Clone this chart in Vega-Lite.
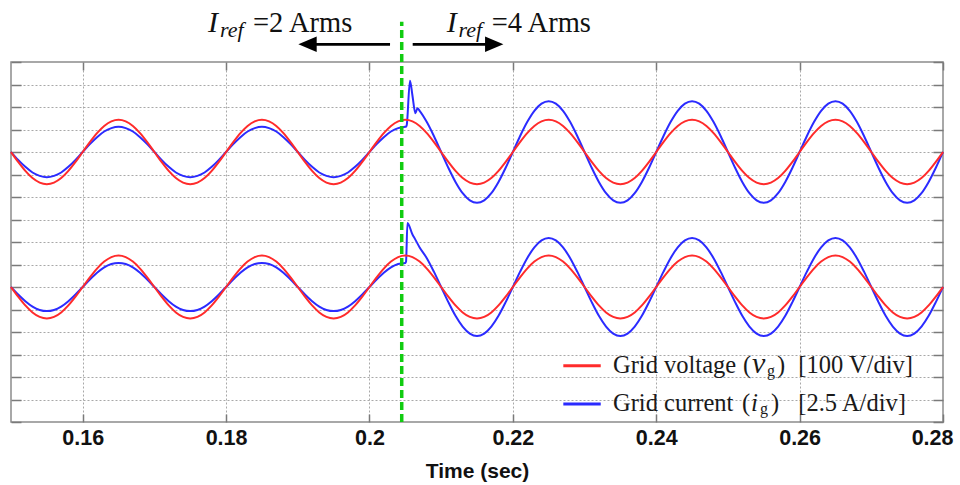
{
"$schema": "https://vega.github.io/schema/vega-lite/v6.json",
"width": 932, "height": 360,
"autosize": {"type": "none"},
"padding": {"left": 11, "top": 62, "right": 17, "bottom": 63},
"background": "white",
"config": {"view": {"stroke": "#8c8c8c", "strokeWidth": 1.5}, "axis": {"gridColor": "#a8a8a8", "gridDash": [2, 2], "gridWidth": 1, "tickColor": "#7a7a7a", "tickWidth": 1.5, "domain": false}},
"resolve": {"axis": {"x": "independent", "y": "independent"}},
"datasets": {
"w": [
{"t":0.150,"vu":12,"iu":12,"vl":6,"il":6},
{"t":0.151,"vu":11.56,"iu":11.65,"vl":5.57,"il":5.67},
{"t":0.152,"vu":11.16,"iu":11.34,"vl":5.18,"il":5.37},
{"t":0.153,"vu":10.84,"iu":11.09,"vl":4.87,"il":5.13},
{"t":0.154,"vu":10.64,"iu":10.94,"vl":4.67,"il":4.98},
{"t":0.155,"vu":10.57,"iu":10.88,"vl":4.6,"il":4.93},
{"t":0.156,"vu":10.64,"iu":10.94,"vl":4.67,"il":4.98},
{"t":0.157,"vu":10.84,"iu":11.09,"vl":4.87,"il":5.13},
{"t":0.158,"vu":11.16,"iu":11.34,"vl":5.18,"il":5.37},
{"t":0.159,"vu":11.56,"iu":11.65,"vl":5.57,"il":5.67},
{"t":0.160,"vu":12,"iu":12,"vl":6,"il":6},
{"t":0.161,"vu":12.44,"iu":12.35,"vl":6.43,"il":6.33},
{"t":0.162,"vu":12.84,"iu":12.66,"vl":6.82,"il":6.63},
{"t":0.163,"vu":13.16,"iu":12.91,"vl":7.13,"il":6.87},
{"t":0.164,"vu":13.36,"iu":13.06,"vl":7.33,"il":7.02},
{"t":0.165,"vu":13.43,"iu":13.12,"vl":7.4,"il":7.07},
{"t":0.166,"vu":13.36,"iu":13.06,"vl":7.33,"il":7.02},
{"t":0.167,"vu":13.16,"iu":12.91,"vl":7.13,"il":6.87},
{"t":0.168,"vu":12.84,"iu":12.66,"vl":6.82,"il":6.63},
{"t":0.169,"vu":12.44,"iu":12.35,"vl":6.43,"il":6.33},
{"t":0.170,"vu":12,"iu":12,"vl":6,"il":6},
{"t":0.171,"vu":11.56,"iu":11.65,"vl":5.57,"il":5.67},
{"t":0.172,"vu":11.16,"iu":11.34,"vl":5.18,"il":5.37},
{"t":0.173,"vu":10.84,"iu":11.09,"vl":4.87,"il":5.13},
{"t":0.174,"vu":10.64,"iu":10.94,"vl":4.67,"il":4.98},
{"t":0.175,"vu":10.57,"iu":10.88,"vl":4.6,"il":4.93},
{"t":0.176,"vu":10.64,"iu":10.94,"vl":4.67,"il":4.98},
{"t":0.177,"vu":10.84,"iu":11.09,"vl":4.87,"il":5.13},
{"t":0.178,"vu":11.16,"iu":11.34,"vl":5.18,"il":5.37},
{"t":0.179,"vu":11.56,"iu":11.65,"vl":5.57,"il":5.67},
{"t":0.180,"vu":12,"iu":12,"vl":6,"il":6},
{"t":0.181,"vu":12.44,"iu":12.35,"vl":6.43,"il":6.33},
{"t":0.182,"vu":12.84,"iu":12.66,"vl":6.82,"il":6.63},
{"t":0.183,"vu":13.16,"iu":12.91,"vl":7.13,"il":6.87},
{"t":0.184,"vu":13.36,"iu":13.06,"vl":7.33,"il":7.02},
{"t":0.185,"vu":13.43,"iu":13.12,"vl":7.4,"il":7.07},
{"t":0.186,"vu":13.36,"iu":13.06,"vl":7.33,"il":7.02},
{"t":0.187,"vu":13.16,"iu":12.91,"vl":7.13,"il":6.87},
{"t":0.188,"vu":12.84,"iu":12.66,"vl":6.82,"il":6.63},
{"t":0.189,"vu":12.44,"iu":12.35,"vl":6.43,"il":6.33},
{"t":0.190,"vu":12,"iu":12,"vl":6,"il":6},
{"t":0.191,"vu":11.56,"iu":11.65,"vl":5.57,"il":5.67},
{"t":0.192,"vu":11.16,"iu":11.34,"vl":5.18,"il":5.37},
{"t":0.193,"vu":10.84,"iu":11.09,"vl":4.87,"il":5.13},
{"t":0.194,"vu":10.64,"iu":10.94,"vl":4.67,"il":4.98},
{"t":0.195,"vu":10.57,"iu":10.88,"vl":4.6,"il":4.93},
{"t":0.196,"vu":10.64,"iu":10.94,"vl":4.67,"il":4.98},
{"t":0.197,"vu":10.84,"iu":11.09,"vl":4.87,"il":5.13},
{"t":0.198,"vu":11.16,"iu":11.34,"vl":5.18,"il":5.37},
{"t":0.199,"vu":11.56,"iu":11.65,"vl":5.57,"il":5.67},
{"t":0.200,"vu":12,"iu":12,"vl":6,"il":6},
{"t":0.201,"vu":12.44,"iu":12.35,"vl":6.43,"il":6.33},
{"t":0.202,"vu":12.84,"iu":12.66,"vl":6.82,"il":6.63},
{"t":0.203,"vu":13.16,"iu":12.91,"vl":7.13,"il":6.87},
{"t":0.204,"vu":13.36,"iu":13.06,"vl":7.33,"il":7.02},
{"t":0.205,"vu":13.43,"iu":13.12,"vl":7.4,"il":7.07},
{"t":0.2051,"iu":13.13,"il":7.12},
{"t":0.2052,"iu":13.2},
{"t":0.2053,"il":8.85},
{"t":0.20565,"iu":15.17},
{"t":0.206,"vu":13.36,"iu":14.5,"vl":7.33,"il":8.33},
{"t":0.2062,"il":8.22},
{"t":0.2064,"iu":13.72},
{"t":0.2067,"iu":13.94},
{"t":0.207,"vu":13.16,"iu":13.83,"vl":7.13,"il":7.76},
{"t":0.208,"vu":12.84,"iu":13.33,"vl":6.82,"il":7.28},
{"t":0.209,"vu":12.44,"iu":12.7,"vl":6.43,"il":6.67},
{"t":0.210,"vu":12,"iu":12,"vl":6,"il":6},
{"t":0.211,"vu":11.56,"iu":11.3,"vl":5.57,"il":5.33},
{"t":0.212,"vu":11.16,"iu":10.67,"vl":5.18,"il":4.72},
{"t":0.213,"vu":10.84,"iu":10.17,"vl":4.87,"il":4.24},
{"t":0.214,"vu":10.64,"iu":9.85,"vl":4.67,"il":3.93},
{"t":0.215,"vu":10.57,"iu":9.74,"vl":4.6,"il":3.82},
{"t":0.216,"vu":10.64,"iu":9.85,"vl":4.67,"il":3.93},
{"t":0.217,"vu":10.84,"iu":10.17,"vl":4.87,"il":4.24},
{"t":0.218,"vu":11.16,"iu":10.67,"vl":5.18,"il":4.72},
{"t":0.219,"vu":11.56,"iu":11.3,"vl":5.57,"il":5.33},
{"t":0.220,"vu":12,"iu":12,"vl":6,"il":6},
{"t":0.221,"vu":12.44,"iu":12.7,"vl":6.43,"il":6.67},
{"t":0.222,"vu":12.84,"iu":13.33,"vl":6.82,"il":7.28},
{"t":0.223,"vu":13.16,"iu":13.83,"vl":7.13,"il":7.76},
{"t":0.224,"vu":13.36,"iu":14.15,"vl":7.33,"il":8.07},
{"t":0.225,"vu":13.43,"iu":14.26,"vl":7.4,"il":8.18},
{"t":0.226,"vu":13.36,"iu":14.15,"vl":7.33,"il":8.07},
{"t":0.227,"vu":13.16,"iu":13.83,"vl":7.13,"il":7.76},
{"t":0.228,"vu":12.84,"iu":13.33,"vl":6.82,"il":7.28},
{"t":0.229,"vu":12.44,"iu":12.7,"vl":6.43,"il":6.67},
{"t":0.230,"vu":12,"iu":12,"vl":6,"il":6},
{"t":0.231,"vu":11.56,"iu":11.3,"vl":5.57,"il":5.33},
{"t":0.232,"vu":11.16,"iu":10.67,"vl":5.18,"il":4.72},
{"t":0.233,"vu":10.84,"iu":10.17,"vl":4.87,"il":4.24},
{"t":0.234,"vu":10.64,"iu":9.85,"vl":4.67,"il":3.93},
{"t":0.235,"vu":10.57,"iu":9.74,"vl":4.6,"il":3.82},
{"t":0.236,"vu":10.64,"iu":9.85,"vl":4.67,"il":3.93},
{"t":0.237,"vu":10.84,"iu":10.17,"vl":4.87,"il":4.24},
{"t":0.238,"vu":11.16,"iu":10.67,"vl":5.18,"il":4.72},
{"t":0.239,"vu":11.56,"iu":11.3,"vl":5.57,"il":5.33},
{"t":0.240,"vu":12,"iu":12,"vl":6,"il":6},
{"t":0.241,"vu":12.44,"iu":12.7,"vl":6.43,"il":6.67},
{"t":0.242,"vu":12.84,"iu":13.33,"vl":6.82,"il":7.28},
{"t":0.243,"vu":13.16,"iu":13.83,"vl":7.13,"il":7.76},
{"t":0.244,"vu":13.36,"iu":14.15,"vl":7.33,"il":8.07},
{"t":0.245,"vu":13.43,"iu":14.26,"vl":7.4,"il":8.18},
{"t":0.246,"vu":13.36,"iu":14.15,"vl":7.33,"il":8.07},
{"t":0.247,"vu":13.16,"iu":13.83,"vl":7.13,"il":7.76},
{"t":0.248,"vu":12.84,"iu":13.33,"vl":6.82,"il":7.28},
{"t":0.249,"vu":12.44,"iu":12.7,"vl":6.43,"il":6.67},
{"t":0.250,"vu":12,"iu":12,"vl":6,"il":6},
{"t":0.251,"vu":11.56,"iu":11.3,"vl":5.57,"il":5.33},
{"t":0.252,"vu":11.16,"iu":10.67,"vl":5.18,"il":4.72},
{"t":0.253,"vu":10.84,"iu":10.17,"vl":4.87,"il":4.24},
{"t":0.254,"vu":10.64,"iu":9.85,"vl":4.67,"il":3.93},
{"t":0.255,"vu":10.57,"iu":9.74,"vl":4.6,"il":3.82},
{"t":0.256,"vu":10.64,"iu":9.85,"vl":4.67,"il":3.93},
{"t":0.257,"vu":10.84,"iu":10.17,"vl":4.87,"il":4.24},
{"t":0.258,"vu":11.16,"iu":10.67,"vl":5.18,"il":4.72},
{"t":0.259,"vu":11.56,"iu":11.3,"vl":5.57,"il":5.33},
{"t":0.260,"vu":12,"iu":12,"vl":6,"il":6},
{"t":0.261,"vu":12.44,"iu":12.7,"vl":6.43,"il":6.67},
{"t":0.262,"vu":12.84,"iu":13.33,"vl":6.82,"il":7.28},
{"t":0.263,"vu":13.16,"iu":13.83,"vl":7.13,"il":7.76},
{"t":0.264,"vu":13.36,"iu":14.15,"vl":7.33,"il":8.07},
{"t":0.265,"vu":13.43,"iu":14.26,"vl":7.4,"il":8.18},
{"t":0.266,"vu":13.36,"iu":14.15,"vl":7.33,"il":8.07},
{"t":0.267,"vu":13.16,"iu":13.83,"vl":7.13,"il":7.76},
{"t":0.268,"vu":12.84,"iu":13.33,"vl":6.82,"il":7.28},
{"t":0.269,"vu":12.44,"iu":12.7,"vl":6.43,"il":6.67},
{"t":0.270,"vu":12,"iu":12,"vl":6,"il":6},
{"t":0.271,"vu":11.56,"iu":11.3,"vl":5.57,"il":5.33},
{"t":0.272,"vu":11.16,"iu":10.67,"vl":5.18,"il":4.72},
{"t":0.273,"vu":10.84,"iu":10.17,"vl":4.87,"il":4.24},
{"t":0.274,"vu":10.64,"iu":9.85,"vl":4.67,"il":3.93},
{"t":0.275,"vu":10.57,"iu":9.74,"vl":4.6,"il":3.82},
{"t":0.276,"vu":10.64,"iu":9.85,"vl":4.67,"il":3.93},
{"t":0.277,"vu":10.84,"iu":10.17,"vl":4.87,"il":4.24},
{"t":0.278,"vu":11.16,"iu":10.67,"vl":5.18,"il":4.72},
{"t":0.279,"vu":11.56,"iu":11.3,"vl":5.57,"il":5.33},
{"t":0.280,"vu":12,"iu":12,"vl":6,"il":6}
]
},
"layer": [
{
"data": {"name": "w"},
"transform": [{"fold": ["iu", "il"], "as": ["series", "value"]}, {"filter": "datum.value != null"}],
"mark": {"type": "line", "interpolate": "monotone", "strokeWidth": 2, "color": "#2b2bff"},
"encoding": {
"x": {"field": "t", "type": "quantitative", "scale": {"domain": [0.15, 0.28], "nice": false, "zero": false},
"axis": {"values": [0.16, 0.18, 0.2, 0.22, 0.24, 0.26, 0.28], "format": "~g", "grid": true, "ticks": true, "tickSize": -8, "labelPadding": 13, "labelFont": "Liberation Sans", "labelFontWeight": "bold", "labelFontSize": 21.5, "labelColor": "#111111", "labelFlush": true, "labelFlushOffset": 10, "title": "Time (sec)", "titleFont": "Liberation Sans", "titleFontSize": 21, "titleFontWeight": "bold", "titleColor": "#111111", "titlePadding": 12}},
"y": {"field": "value", "type": "quantitative", "scale": {"domain": [0, 16], "nice": false, "zero": false},
"axis": {"values": [0,1,2,3,4,5,6,7,8,9,10,11,12,13,14,15,16], "labels": false, "grid": true, "ticks": true, "tickSize": -10, "title": null}},
"detail": {"field": "series", "type": "nominal"}
}
},
{
"data": {"name": "w"},
"transform": [{"fold": ["vu", "vl"], "as": ["series", "value"]}, {"filter": "datum.value != null"}],
"mark": {"type": "line", "interpolate": "monotone", "strokeWidth": 2, "color": "#ff2b2b"},
"encoding": {
"x": {"field": "t", "type": "quantitative", "scale": {"domain": [0.15, 0.28], "nice": false, "zero": false}, "axis": null},
"y": {"field": "value", "type": "quantitative", "scale": {"domain": [0, 16], "nice": false, "zero": false}, "axis": null},
"detail": {"field": "series", "type": "nominal"}
}
},
{
"data": {"values": [{"t": 0.2045, "y1": 0, "y2": 17.79}]},
"mark": {"type": "rule", "color": "#11cc11", "strokeWidth": 3.5, "strokeDash": [8, 4]},
"encoding": {
"x": {"field": "t", "type": "quantitative", "scale": {"domain": [0.15, 0.28], "nice": false, "zero": false},
"axis": {"orient": "top", "values": [0.16, 0.18, 0.2, 0.22, 0.24, 0.26, 0.28], "labels": false, "grid": false, "ticks": true, "tickSize": -8, "title": null}},
"y": {"field": "y1", "type": "quantitative", "scale": {"domain": [0, 16], "nice": false, "zero": false},
"axis": {"orient": "right", "values": [0,1,2,3,4,5,6,7,8,9,10,11,12,13,14,15,16], "labels": false, "grid": false, "ticks": true, "tickSize": -10, "title": null}},
"y2": {"field": "y2"}
}
},
{
"data": {"values": [{"t1": 0.19136, "t2": 0.20287, "v": 16.787}, {"t1": 0.20603, "t2": 0.2174, "v": 16.787}]},
"mark": {"type": "rule", "color": "black", "strokeWidth": 2.8},
"encoding": {
"x": {"field": "t1", "type": "quantitative", "scale": {"domain": [0.15, 0.28], "nice": false, "zero": false}, "axis": null},
"x2": {"field": "t2"},
"y": {"field": "v", "type": "quantitative", "scale": {"domain": [0, 16], "nice": false, "zero": false}, "axis": null}
}
},
{
"data": {"values": [{"t": 0.19136, "v": 16.787}]},
"mark": {"type": "point", "filled": true, "opacity": 1, "color": "black", "size": 336, "shape": "M-1,0L1,-0.85L1,0.85Z"},
"encoding": {
"x": {"field": "t", "type": "quantitative", "scale": {"domain": [0.15, 0.28], "nice": false, "zero": false}, "axis": null},
"y": {"field": "v", "type": "quantitative", "scale": {"domain": [0, 16], "nice": false, "zero": false}, "axis": null}
}
},
{
"data": {"values": [{"t": 0.2174, "v": 16.787}]},
"mark": {"type": "point", "filled": true, "opacity": 1, "color": "black", "size": 336, "shape": "M1,0L-1,-0.85L-1,0.85Z"},
"encoding": {
"x": {"field": "t", "type": "quantitative", "scale": {"domain": [0.15, 0.28], "nice": false, "zero": false}, "axis": null},
"y": {"field": "v", "type": "quantitative", "scale": {"domain": [0, 16], "nice": false, "zero": false}, "axis": null}
}
},
{
"data": {"values": [{"t": 0.17748, "v": 17.347, "label": "I"}, {"t": 0.21078, "v": 17.347, "label": "I"}]},
"mark": {"type": "text", "font": "Liberation Serif", "fontStyle": "italic", "fontSize": 30, "align": "left", "baseline": "alphabetic", "color": "#111111"},
"encoding": {
"x": {"field": "t", "type": "quantitative", "scale": {"domain": [0.15, 0.28], "nice": false, "zero": false}, "axis": null},
"y": {"field": "v", "type": "quantitative", "scale": {"domain": [0, 16], "nice": false, "zero": false}, "axis": null},
"text": {"field": "label"}
}
},
{
"data": {"values": [{"t": 0.17915, "v": 17.09, "label": "ref"}, {"t": 0.21243, "v": 17.09, "label": "ref"}]},
"mark": {"type": "text", "font": "Liberation Serif", "fontStyle": "italic", "fontSize": 22, "align": "left", "baseline": "alphabetic", "color": "#111111"},
"encoding": {
"x": {"field": "t", "type": "quantitative", "scale": {"domain": [0.15, 0.28], "nice": false, "zero": false}, "axis": null},
"y": {"field": "v", "type": "quantitative", "scale": {"domain": [0, 16], "nice": false, "zero": false}, "axis": null},
"text": {"field": "label"}
}
},
{
"data": {"values": [{"t": 0.18376, "v": 17.347, "label": "=2 Arms"}, {"t": 0.21705, "v": 17.347, "label": "=4 Arms"}]},
"mark": {"type": "text", "font": "Liberation Serif", "fontSize": 28.5, "align": "left", "baseline": "alphabetic", "color": "#111111"},
"encoding": {
"x": {"field": "t", "type": "quantitative", "scale": {"domain": [0.15, 0.28], "nice": false, "zero": false}, "axis": null},
"y": {"field": "v", "type": "quantitative", "scale": {"domain": [0, 16], "nice": false, "zero": false}, "axis": null},
"text": {"field": "label"}
}
},
{
"data": {"values": [{"t1": 0.22704, "t2": 0.23226, "v": 2.502}]},
"mark": {"type": "rule", "color": "#ff2b2b", "strokeWidth": 3},
"encoding": {
"x": {"field": "t1", "type": "quantitative", "scale": {"domain": [0.15, 0.28], "nice": false, "zero": false}, "axis": null},
"x2": {"field": "t2"},
"y": {"field": "v", "type": "quantitative", "scale": {"domain": [0, 16], "nice": false, "zero": false}, "axis": null}
}
},
{
"data": {"values": [{"t1": 0.22704, "t2": 0.23226, "v": 0.8}]},
"mark": {"type": "rule", "color": "#2b2bff", "strokeWidth": 3},
"encoding": {
"x": {"field": "t1", "type": "quantitative", "scale": {"domain": [0.15, 0.28], "nice": false, "zero": false}, "axis": null},
"x2": {"field": "t2"},
"y": {"field": "v", "type": "quantitative", "scale": {"domain": [0, 16], "nice": false, "zero": false}, "axis": null}
}
},
{
"data": {"values": [
{"t": 0.23397, "v": 2.191, "label": "Grid voltage"},
{"t": 0.25211, "v": 2.191, "label": "("},
{"t": 0.25685, "v": 2.191, "label": ")"},
{"t": 0.25982, "v": 2.191, "label": "[100 V/div]"},
{"t": 0.23397, "v": 0.502, "label": "Grid current"},
{"t": 0.25197, "v": 0.502, "label": "("},
{"t": 0.25601, "v": 0.502, "label": ")"},
{"t": 0.25982, "v": 0.502, "label": "[2.5 A/div]"}
]},
"mark": {"type": "text", "font": "Liberation Serif", "fontSize": 24.5, "align": "left", "baseline": "alphabetic", "color": "#1a1a1a"},
"encoding": {
"x": {"field": "t", "type": "quantitative", "scale": {"domain": [0.15, 0.28], "nice": false, "zero": false}, "axis": null},
"y": {"field": "v", "type": "quantitative", "scale": {"domain": [0, 16], "nice": false, "zero": false}, "axis": null},
"text": {"field": "label"}
}
},
{
"data": {"values": [{"t": 0.25337, "v": 2.191, "label": "v"}]},
"mark": {"type": "text", "font": "Liberation Serif", "fontStyle": "italic", "fontSize": 30, "align": "left", "baseline": "alphabetic", "color": "#1a1a1a"},
"encoding": {
"x": {"field": "t", "type": "quantitative", "scale": {"domain": [0.15, 0.28], "nice": false, "zero": false}, "axis": null},
"y": {"field": "v", "type": "quantitative", "scale": {"domain": [0, 16], "nice": false, "zero": false}, "axis": null},
"text": {"field": "label"}
}
},
{
"data": {"values": [{"t": 0.25322, "v": 0.502, "label": "i"}]},
"mark": {"type": "text", "font": "Liberation Serif", "fontStyle": "italic", "fontSize": 25, "align": "left", "baseline": "alphabetic", "color": "#1a1a1a"},
"encoding": {
"x": {"field": "t", "type": "quantitative", "scale": {"domain": [0.15, 0.28], "nice": false, "zero": false}, "axis": null},
"y": {"field": "v", "type": "quantitative", "scale": {"domain": [0, 16], "nice": false, "zero": false}, "axis": null},
"text": {"field": "label"}
}
},
{
"data": {"values": [{"t": 0.25546, "v": 2.044, "label": "g"}, {"t": 0.25448, "v": 0.356, "label": "g"}]},
"mark": {"type": "text", "font": "Liberation Serif", "fontSize": 16, "align": "left", "baseline": "alphabetic", "color": "#1a1a1a"},
"encoding": {
"x": {"field": "t", "type": "quantitative", "scale": {"domain": [0.15, 0.28], "nice": false, "zero": false}, "axis": null},
"y": {"field": "v", "type": "quantitative", "scale": {"domain": [0, 16], "nice": false, "zero": false}, "axis": null},
"text": {"field": "label"}
}
}
]
}
